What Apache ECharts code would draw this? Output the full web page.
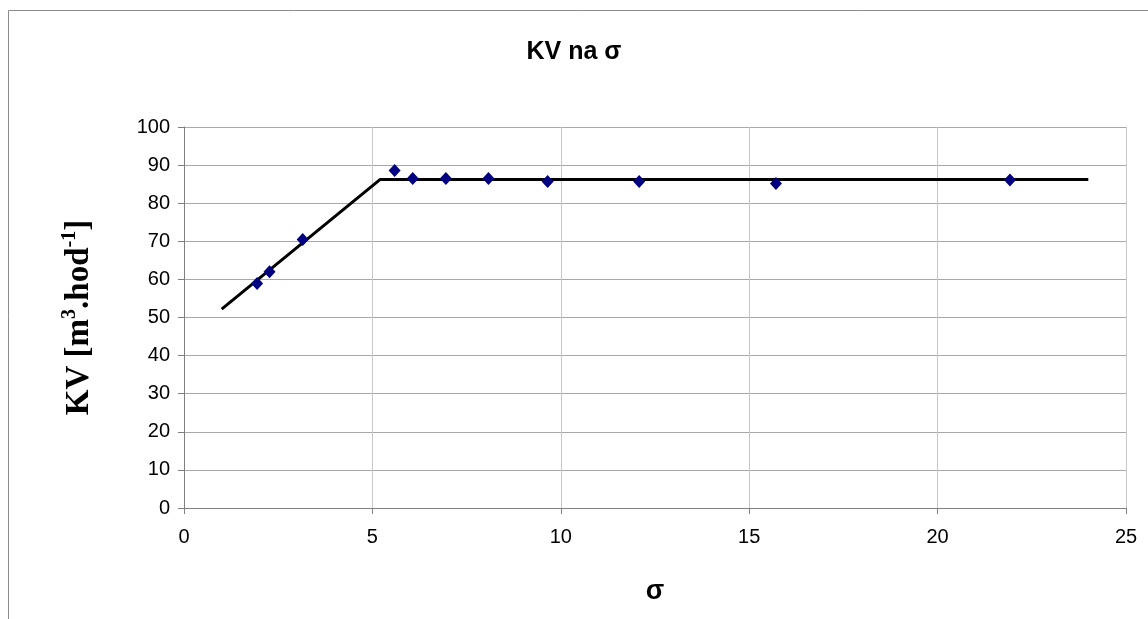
<!DOCTYPE html>
<html><head><meta charset="utf-8">
<script src="https://cdn.jsdelivr.net/npm/echarts@6/dist/echarts.min.js"></script>
<style>html,body{margin:0;padding:0;background:#fff}#c{width:1148px;height:619px}</style>
</head><body><div id="c"></div>
<script>
const sigma = [1.94, 2.27, 3.15, 5.59, 6.07, 6.95, 8.08, 9.65, 12.08, 15.71, 21.92];
const kv = [58.9, 62.0, 70.5, 88.6, 86.5, 86.5, 86.5, 85.7, 85.7, 85.2, 86.1];
const fitX = [1.0, 5.2, 24.0];
const fitY = [52.2, 86.2, 86.2];
const xTicks = [0, 5, 10, 15, 20, 25];
const yTicks = [0, 10, 20, 30, 40, 50, 60, 70, 80, 90, 100];

const chart = echarts.init(document.getElementById('c'));
chart.setOption({
  animation: false,
  graphic: [{type:'rect', shape:{x:8.5,y:10.5,width:1200,height:700}, style:{fill:'none',stroke:'#8c8c8c',lineWidth:1}, z:-1}],
  title: {text:'KV na σ', left:'center', top:35, textStyle:{fontFamily:'Liberation Sans, Arial', fontWeight:'bold', fontSize:25, color:'#000'}},
  grid: {left:184, right:22, top:127, bottom:111},
  xAxis: {type:'value', min:xTicks[0], max:xTicks[xTicks.length-1], interval:5,
    name:'σ', nameLocation:'middle', nameGap:70,
    nameTextStyle:{fontFamily:'Liberation Sans, Arial', fontWeight:'bold', fontSize:27, color:'#000'},
    axisLine:{lineStyle:{color:'#808080'}}, axisTick:{show:true, length:6, lineStyle:{color:'#808080'}},
    axisLabel:{fontFamily:'Liberation Sans, Arial', fontSize:20, color:'#000', margin:19},
    splitLine:{show:true, lineStyle:{color:'#c8c8c8'}}},
  yAxis: {type:'value', min:yTicks[0], max:yTicks[yTicks.length-1], interval:10,
    name:'{b|KV [m}{s|3}{b|.hod}{s|-1}{b|]}', nameLocation:'middle', nameGap:88, nameRotate:90,
    nameTextStyle:{rich:{
      b:{fontFamily:'Liberation Serif, Times New Roman', fontWeight:'bold', fontSize:33, color:'#000', verticalAlign:'bottom', lineHeight:36},
      s:{fontFamily:'Liberation Serif, Times New Roman', fontWeight:'bold', fontSize:20, color:'#000', verticalAlign:'top', lineHeight:36, padding:[0,0,15,0]}}},
    axisLine:{show:true, lineStyle:{color:'#808080'}}, axisTick:{show:true, length:6, lineStyle:{color:'#808080'}},
    axisLabel:{fontFamily:'Liberation Sans, Arial', fontSize:20, color:'#000', margin:14},
    splitLine:{show:true, lineStyle:{color:'#a8a8a8'}}},
  series: [
    {type:'line', data:fitX.map((x,i)=>[x,fitY[i]]), showSymbol:false, symbol:'none',
     lineStyle:{color:'#000', width:3}, z:2},
    {type:'scatter', data:sigma.map((x,i)=>[x,kv[i]]), symbol:'diamond', symbolSize:[12,13],
     itemStyle:{color:'#000080', opacity:1}, z:3}
  ]
});
</script></body></html>
